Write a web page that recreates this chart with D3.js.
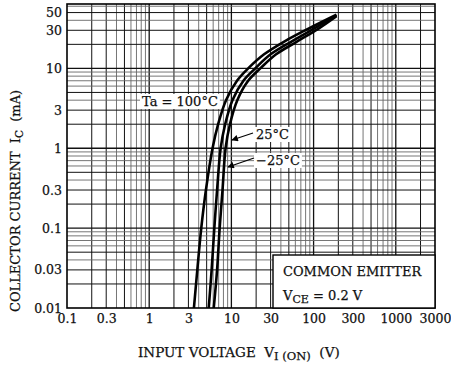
<!DOCTYPE html>
<html>
<head>
<meta charset="utf-8">
<script src="https://cdn.jsdelivr.net/npm/d3@7"></script>
<style>
  body { margin: 0; background: #fff; }
  text { font-family: "DejaVu Serif", "Liberation Serif", serif; fill: #111; white-space: pre; stroke: #111; stroke-width: 0.25px; }
</style>
</head>
<body>
<script>
// tick labels
var xTicks = [0.1, 0.3, 1, 3, 10, 30, 100, 300, 1000, 3000];
var yTicks = [0.01, 0.03, 0.1, 0.3, 1, 3, 10, 30, 50];

// curves: [V_I(on) in V, Ic in mA]
var ta100 = [[3.5, 0.01], [3.85, 0.03], [4.3, 0.1], [4.9, 0.3], [5.9, 1], [6.9, 2], [8.6, 4], [11.7, 7], [16, 10], [25, 15], [45, 22], [95, 33], [190, 47]];
var ta25 = [[5.3, 0.01], [5.75, 0.03], [6.2, 0.1], [6.7, 0.3], [7.4, 1], [8.4, 2], [10.3, 4], [14, 7], [19.5, 10], [30, 15], [55, 22], [110, 33], [190, 46]];
var taM25 = [[6.1, 0.01], [6.7, 0.03], [7.2, 0.1], [7.8, 0.3], [8.5, 1], [9.6, 2], [11.8, 4], [16, 7], [22.5, 10], [35, 15], [62, 21.5], [115, 31.5], [190, 45]];

var width = 451, height = 367;
var pl = 67, pr = 435, pt = 4, pb = 308;

var svg = d3.select("body").append("svg")
  .attr("width", width)
  .attr("height", height);

var x = d3.scaleLog().domain([0.1, 3000]).range([pl, pr]);
var y = d3.scaleLog().domain([0.01, 64]).range([pb, pt]);

// log grid
function gridValues(lo, hi) {
  var out = [];
  for (var e = Math.floor(Math.log10(lo)); e <= Math.ceil(Math.log10(hi)); e++) {
    for (var m = 1; m < 10; m++) {
      var v = m * Math.pow(10, e);
      if (v > lo * 1.0001 && v < hi * 0.9999) out.push({v: v, m: m});
    }
  }
  return out;
}
function gridColor(m) { return (m == 1 || m == 2 || m == 3 || m == 5) ? "#111" : "#666"; }
function gridWidth(m) { return m == 1 ? 1.3 : (m == 2 || m == 3 || m == 5) ? 1 : 0.9; }

var grid = svg.append("g");
grid.selectAll(".vx")
  .data(gridValues(0.1, 3000))
  .enter().append("line")
  .attr("x1", function(d) { return x(d.v); })
  .attr("x2", function(d) { return x(d.v); })
  .attr("y1", pt).attr("y2", pb)
  .attr("stroke", function(d) { return gridColor(d.m); })
  .attr("stroke-width", function(d) { return gridWidth(d.m); });

grid.selectAll(".hy")
  .data(gridValues(0.01, 64))
  .enter().append("line")
  .attr("y1", function(d) { return y(d.v); })
  .attr("y2", function(d) { return y(d.v); })
  .attr("x1", pl).attr("x2", pr)
  .attr("stroke", function(d) { return gridColor(d.m); })
  .attr("stroke-width", function(d) { return gridWidth(d.m); });

// tick labels
var xAxis = d3.axisBottom(x).tickValues(xTicks).tickSize(0).tickFormat(d3.format("~g"));
var gx = svg.append("g").attr("transform", "translate(0," + pb + ")").call(xAxis);
gx.select(".domain").remove();
gx.selectAll("text").attr("dy", "0.95em").style("font-size", "12.5px")
  .style("font-family", "DejaVu Serif, serif").attr("fill", "#111");

var yAxis = d3.axisLeft(y).tickValues(yTicks).tickSize(0).tickFormat(d3.format("~g"));
var gy = svg.append("g").attr("transform", "translate(" + (pl - 2) + ",0)").call(yAxis);
gy.select(".domain").remove();
gy.selectAll("text").style("font-size", "12.5px")
  .style("font-family", "DejaVu Serif, serif").attr("fill", "#111");

// curves
svg.append("clipPath").attr("id", "plot")
  .append("rect").attr("x", pl).attr("y", pt).attr("width", pr - pl).attr("height", pb - pt);

var line = d3.line()
  .curve(d3.curveCatmullRom.alpha(0.5))
  .x(function(d) { return x(d[0]); })
  .y(function(d) { return y(d[1]); });

svg.append("g").attr("clip-path", "url(#plot)")
  .selectAll(".curve")
  .data([ta100, ta25, taM25])
  .enter().append("path")
  .attr("d", line)
  .attr("fill", "none")
  .attr("stroke", "#000")
  .attr("stroke-width", 2.6);

// frame
svg.append("rect")
  .attr("x", pl).attr("y", pt)
  .attr("width", pr - pl).attr("height", pb - pt)
  .attr("fill", "none").attr("stroke", "#000").attr("stroke-width", 1.6);

// curve labels
function label(tx, ty, txt) {
  var t = svg.append("text").attr("x", tx).attr("y", ty)
    .style("font-size", "13px").text(txt);
  var b = t.node().getBBox();
  svg.insert("rect", function() { return t.node(); })
    .attr("x", b.x - 2).attr("y", b.y).attr("width", b.width + 4).attr("height", b.height)
    .attr("fill", "#fff");
}
label(142, 106, "Ta = 100°C");
label(256, 139, "25°C");
label(256, 165, "\u221225°C");

var arrows = [[253, 133, 232, 140], [254, 158, 228, 167]];
svg.append("defs").append("marker")
  .attr("id", "ah").attr("viewBox", "0 0 10 10").attr("refX", 9).attr("refY", 5)
  .attr("markerWidth", 7).attr("markerHeight", 5).attr("orient", "auto")
  .append("path").attr("d", "M0,0L10,5L0,10z").attr("fill", "#000");
svg.selectAll(".arr").data(arrows).enter().append("line")
  .attr("x1", function(d) { return d[0]; }).attr("y1", function(d) { return d[1]; })
  .attr("x2", function(d) { return d[2]; }).attr("y2", function(d) { return d[3]; })
  .attr("stroke", "#000").attr("stroke-width", 1.3).attr("marker-end", "url(#ah)");

// condition box
svg.append("rect")
  .attr("x", 273).attr("y", 255).attr("width", pr - 273).attr("height", pb - 255)
  .attr("fill", "#fff").attr("stroke", "#000").attr("stroke-width", 1.4);
svg.append("text").attr("x", 283).attr("y", 276).style("font-size", "13px").text("COMMON EMITTER");
var vce = svg.append("text").attr("x", 283).attr("y", 300).style("font-size", "13px");
vce.append("tspan").text("V");
vce.append("tspan").attr("dy", 3).style("font-size", "11px").text("CE");
vce.append("tspan").attr("dy", -3).text(" = 0.2 V");

// axis titles
var xt = svg.append("text").attr("x", 138).attr("y", 357).style("font-size", "13.5px");
xt.append("tspan").text("INPUT VOLTAGE  V");
xt.append("tspan").attr("dy", 3).style("font-size", "11.5px").text("I (ON)");
xt.append("tspan").attr("dy", -3).text("  (V)");

var yt = svg.append("text")
  .attr("transform", "translate(20,312) rotate(-90)")
  .style("font-size", "13px");
yt.append("tspan").text("COLLECTOR CURRENT  I");
yt.append("tspan").attr("dy", 3).style("font-size", "10.5px").text("C");
yt.append("tspan").attr("dy", -3).text("  (mA)");
</script>
</body>
</html>
